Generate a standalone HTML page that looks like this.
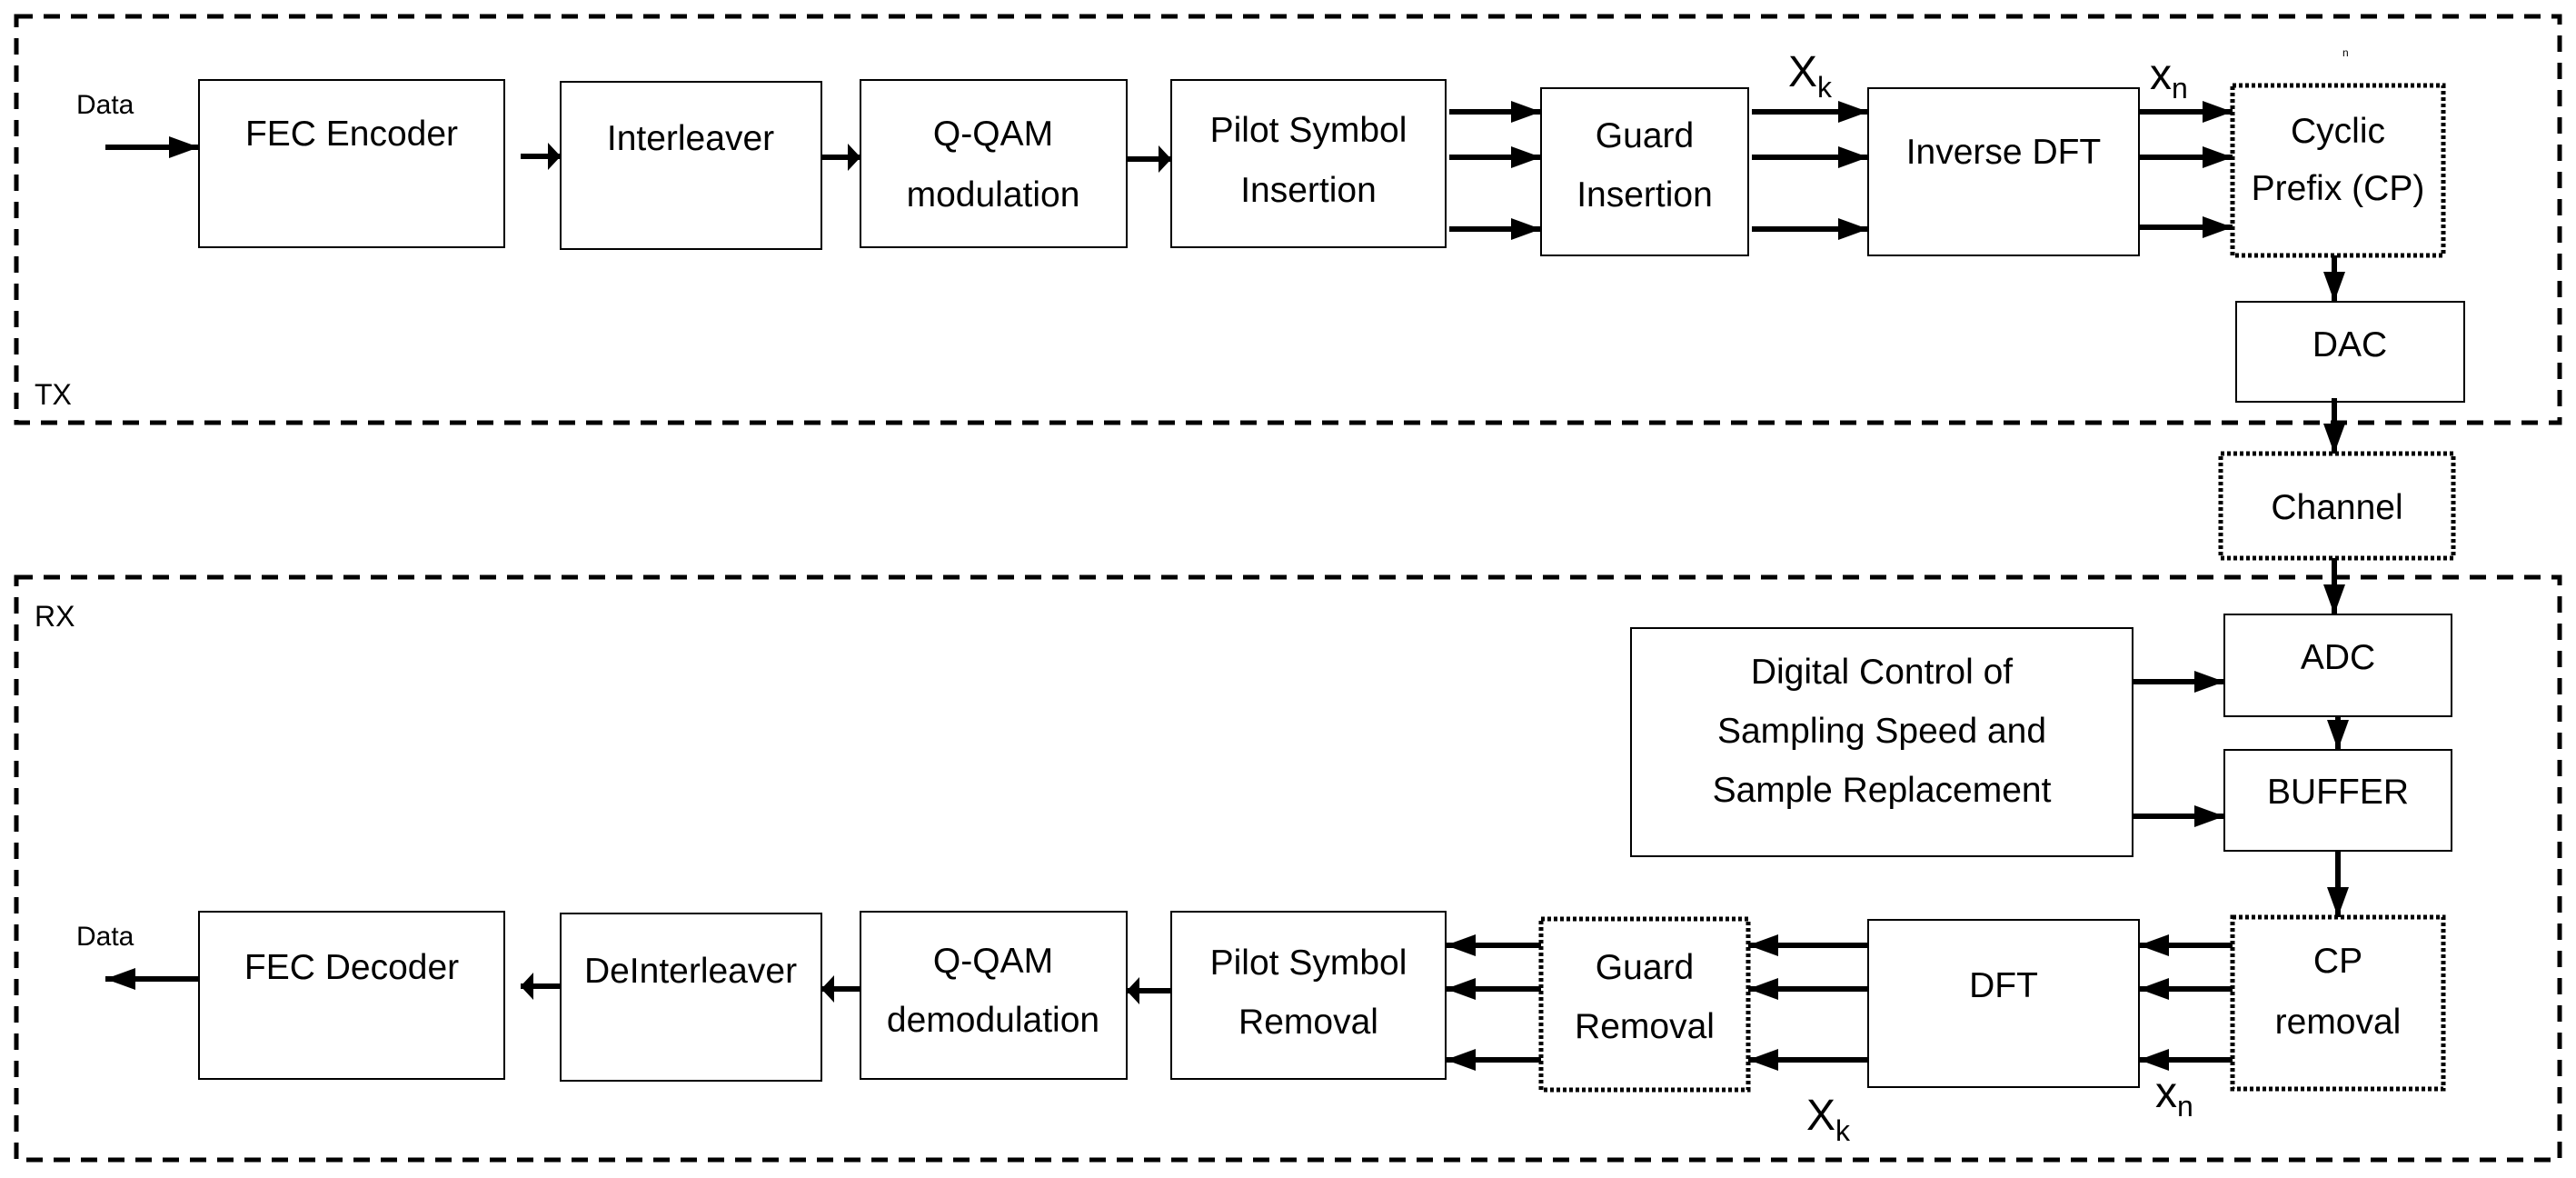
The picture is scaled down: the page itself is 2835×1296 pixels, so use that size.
<!DOCTYPE html>
<html><head><meta charset="utf-8"><style>
html,body{margin:0;padding:0;background:#fff;}
svg{display:block;}
text{font-family:"Liberation Sans",sans-serif;font-size:39px;fill:#000;}
</style></head><body>
<svg width="2835" height="1296" viewBox="0 0 2835 1296" xmlns="http://www.w3.org/2000/svg">
<defs>
<marker id="b" markerUnits="userSpaceOnUse" markerWidth="34" markerHeight="26" refX="33" refY="12" orient="auto"><path d="M0,0 L33,12 L0,24 z" fill="#000"/></marker>
<marker id="s" markerUnits="userSpaceOnUse" markerWidth="16" markerHeight="32" refX="14" refY="15" orient="auto"><path d="M0,0 L14,15 L0,30 z" fill="#000"/></marker>
</defs>
<g fill="none" stroke="#000" stroke-width="5" stroke-dasharray="18 12">
<rect x="18" y="18" width="2799" height="447"/>
<rect x="18" y="635" width="2799" height="641"/>
</g>
<g fill="#fff" stroke="#000" stroke-width="2">
<rect x="219" y="88" width="336" height="184"/>
<rect x="617" y="90" width="287" height="184"/>
<rect x="947" y="88" width="293" height="184"/>
<rect x="1289" y="88" width="302" height="184"/>
<rect x="1696" y="97" width="228" height="184"/>
<rect x="2056" y="97" width="298" height="184"/>
<rect x="2461" y="332" width="251" height="110"/>
<rect x="1795" y="691" width="552" height="251"/>
<rect x="2448" y="676" width="250" height="112"/>
<rect x="2448" y="825" width="250" height="111"/>
<rect x="2056" y="1012" width="298" height="184"/>
<rect x="1289" y="1003" width="302" height="184"/>
<rect x="947" y="1003" width="293" height="184"/>
<rect x="617" y="1005" width="287" height="184"/>
<rect x="219" y="1003" width="336" height="184"/>
</g>
<g fill="#fff" stroke="#000" stroke-width="5" stroke-dasharray="4 3">
<rect x="2457" y="94" width="232" height="187"/>
<rect x="2444" y="499" width="256" height="115"/>
<rect x="2457" y="1009" width="232" height="189"/>
<rect x="1696" y="1011" width="228" height="188"/>
</g>
<g stroke="#000" stroke-width="6" fill="none">
<line x1="116" y1="162" x2="219" y2="162" marker-end="url(#b)"/>
<line x1="573" y1="172" x2="617" y2="172" marker-end="url(#s)"/>
<line x1="904" y1="173" x2="947" y2="173" marker-end="url(#s)"/>
<line x1="1240" y1="175" x2="1289" y2="175" marker-end="url(#s)"/>
<line x1="1595" y1="123" x2="1696" y2="123" marker-end="url(#b)"/>
<line x1="1595" y1="173" x2="1696" y2="173" marker-end="url(#b)"/>
<line x1="1595" y1="252" x2="1696" y2="252" marker-end="url(#b)"/>
<line x1="1928" y1="123" x2="2056" y2="123" marker-end="url(#b)"/>
<line x1="1928" y1="173" x2="2056" y2="173" marker-end="url(#b)"/>
<line x1="1928" y1="252" x2="2056" y2="252" marker-end="url(#b)"/>
<line x1="2354" y1="123" x2="2457" y2="123" marker-end="url(#b)"/>
<line x1="2354" y1="173" x2="2457" y2="173" marker-end="url(#b)"/>
<line x1="2354" y1="250" x2="2457" y2="250" marker-end="url(#b)"/>
<line x1="2569" y1="281" x2="2569" y2="332" marker-end="url(#b)"/>
<line x1="2569" y1="438" x2="2569" y2="499" marker-end="url(#b)"/>
<line x1="2569" y1="614" x2="2569" y2="676" marker-end="url(#b)"/>
<line x1="2573" y1="788" x2="2573" y2="825" marker-end="url(#b)"/>
<line x1="2573" y1="936" x2="2573" y2="1009" marker-end="url(#b)"/>
<line x1="2347" y1="750" x2="2448" y2="750" marker-end="url(#b)"/>
<line x1="2347" y1="898" x2="2448" y2="898" marker-end="url(#b)"/>
<line x1="2457" y1="1040" x2="2354" y2="1040" marker-end="url(#b)"/>
<line x1="2457" y1="1088" x2="2354" y2="1088" marker-end="url(#b)"/>
<line x1="2457" y1="1166" x2="2354" y2="1166" marker-end="url(#b)"/>
<line x1="2056" y1="1040" x2="1924" y2="1040" marker-end="url(#b)"/>
<line x1="2056" y1="1088" x2="1924" y2="1088" marker-end="url(#b)"/>
<line x1="2056" y1="1166" x2="1924" y2="1166" marker-end="url(#b)"/>
<line x1="1696" y1="1040" x2="1591" y2="1040" marker-end="url(#b)"/>
<line x1="1696" y1="1088" x2="1591" y2="1088" marker-end="url(#b)"/>
<line x1="1696" y1="1166" x2="1591" y2="1166" marker-end="url(#b)"/>
<line x1="1289" y1="1090" x2="1240" y2="1090" marker-end="url(#s)"/>
<line x1="947" y1="1088" x2="904" y2="1088" marker-end="url(#s)"/>
<line x1="617" y1="1085" x2="573" y2="1085" marker-end="url(#s)"/>
<line x1="219" y1="1077" x2="116" y2="1077" marker-end="url(#b)"/>
</g>
<g text-anchor="middle">
<text x="387" y="160">FEC Encoder</text>
<text x="760" y="165">Interleaver</text>
<text x="1093" y="160">Q-QAM</text>
<text x="1093" y="227">modulation</text>
<text x="1440" y="156">Pilot Symbol</text>
<text x="1440" y="222">Insertion</text>
<text x="1810" y="162">Guard</text>
<text x="1810" y="227">Insertion</text>
<text x="2205" y="180">Inverse DFT</text>
<text x="2573" y="157">Cyclic</text>
<text x="2573" y="220">Prefix (CP)</text>
<text x="2586" y="392">DAC</text>
<text x="2572" y="571">Channel</text>
<text x="2573" y="736">ADC</text>
<text x="2573" y="884">BUFFER</text>
<text x="2071" y="752">Digital Control of</text>
<text x="2071" y="817">Sampling Speed and</text>
<text x="2071" y="882">Sample Replacement</text>
<text x="2573" y="1070">CP</text>
<text x="2573" y="1137">removal</text>
<text x="2205" y="1097">DFT</text>
<text x="1810" y="1077">Guard</text>
<text x="1810" y="1142">Removal</text>
<text x="1440" y="1072">Pilot Symbol</text>
<text x="1440" y="1137">Removal</text>
<text x="1093" y="1070">Q-QAM</text>
<text x="1093" y="1135">demodulation</text>
<text x="760" y="1081">DeInterleaver</text>
<text x="387" y="1077">FEC Decoder</text>
</g>
<text x="84" y="125" style="font-size:30px">Data</text>
<text x="84" y="1040" style="font-size:30px">Data</text>
<text x="38" y="445" style="font-size:32px">TX</text>
<text x="38" y="689" style="font-size:32px">RX</text>
<text x="1968" y="95" style="font-size:48px">X<tspan dy="12" style="font-size:32px">k</tspan></text>
<text x="2366" y="98" style="font-size:48px">x<tspan dy="10" style="font-size:32px">n</tspan></text>
<text x="2578" y="62" style="font-size:12px">n</text>
<text x="1988" y="1243" style="font-size:48px">X<tspan dy="12" style="font-size:32px">k</tspan></text>
<text x="2372" y="1218" style="font-size:48px">x<tspan dy="10" style="font-size:32px">n</tspan></text>
</svg>
</body></html>
